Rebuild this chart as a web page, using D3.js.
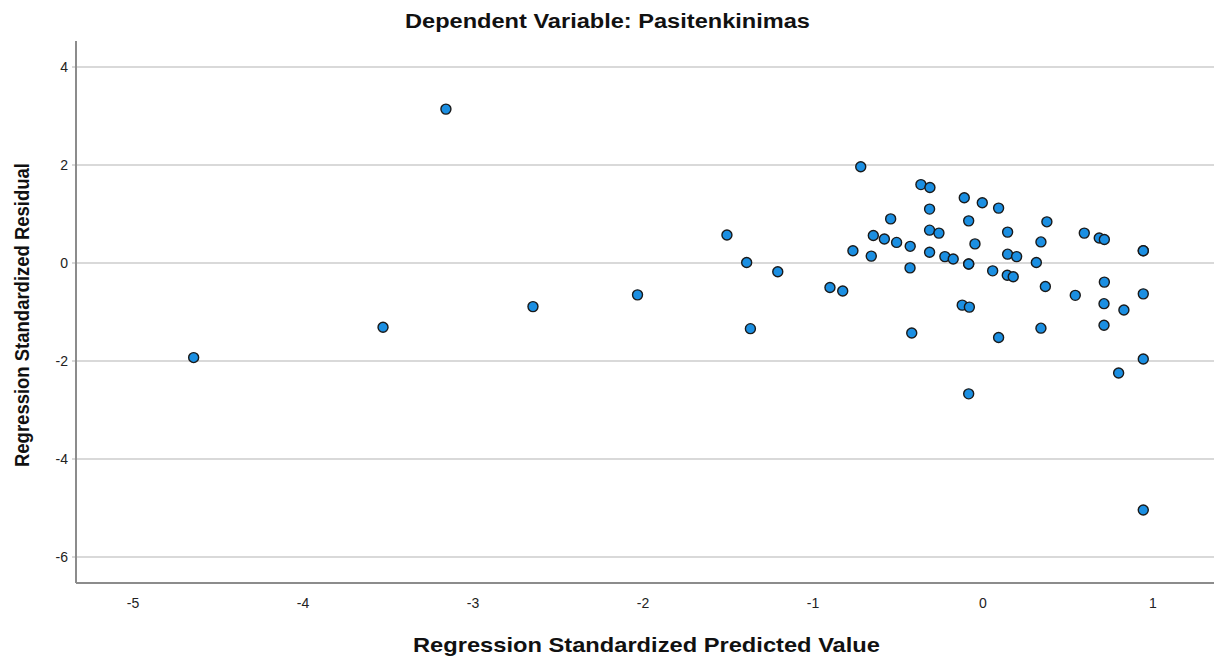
<!DOCTYPE html>
<html>
<head>
<meta charset="utf-8">
<script src="https://cdn.jsdelivr.net/npm/d3@7"></script>
<style>
  body { margin: 0; background: #fff; }
  svg { display: block; font-family: "Liberation Sans", Arial, sans-serif; }
</style>
</head>
<body>
<svg id="chart"></svg>
<script>
// standardized predicted values (x) and standardized residuals (y)
const predicted = [
  -4.643, -3.529, -3.159, -2.647, -2.032, -1.506, -1.390, -1.368, -1.207,
  -0.900, -0.825, -0.765, -0.719, -0.657, -0.645, -0.580, -0.543, -0.508,
  -0.428, -0.429, -0.419, -0.365, -0.312, -0.314, -0.314, -0.314, -0.259,
  -0.224, -0.175, -0.122, -0.110, -0.084, -0.084, -0.084, -0.080, -0.084,
  -0.047, -0.004, 0.057, 0.092, 0.092, 0.145, 0.145, 0.143, 0.178, 0.198,
  0.314, 0.341, 0.341, 0.367, 0.376, 0.543, 0.596, 0.684, 0.714, 0.714,
  0.712, 0.712, 0.798, 0.829, 0.943, 0.943, 0.943, 0.943, 0.943
];
const residual = [
  -1.93, -1.31, 3.14, -0.89, -0.65, 0.57, 0.01, -1.34, -0.18,
  -0.50, -0.57, 0.25, 1.965, 0.14, 0.56, 0.49, 0.90, 0.42,
  0.34, -0.10, -1.43, 1.60, 1.54, 1.10, 0.67, 0.22, 0.61,
  0.13, 0.08, -0.86, 1.33, 0.86, -0.02, -0.02, -0.90, -2.67,
  0.39, 1.23, -0.16, 1.12, -1.52, 0.63, 0.18, -0.25, -0.28, 0.13,
  0.01, 0.43, -1.33, -0.48, 0.84, -0.66, 0.61, 0.51, 0.48, -0.39,
  -0.83, -1.27, -2.245, -0.96, 0.25, 0.25, -0.63, -1.96, -5.04
];
const xTicks = [-5, -4, -3, -2, -1, 0, 1];
const yTicks = [-6, -4, -2, 0, 2, 4];

const titleText = "Dependent Variable: Pasitenkinimas";
const xLabel = "Regression Standardized Predicted Value";
const yLabel = "Regression Standardized Residual";

const width = 1214;
const height = 660;
const plot = { left: 76, right: 1214, top: 41, bottom: 583 };

const svg = d3.select("#chart")
    .attr("width", width)
    .attr("height", height);

const x = d3.scaleLinear()
    .domain([-5.335, 1.359])
    .range([plot.left, plot.right]);

const y = d3.scaleLinear()
    .domain([-6.53, 4.53])
    .range([plot.bottom, plot.top]);

// horizontal gridlines
svg.append("g")
    .selectAll("line")
    .data(yTicks)
    .join("line")
    .attr("x1", plot.left - 4)
    .attr("x2", plot.right)
    .attr("y1", d => y(d))
    .attr("y2", d => y(d))
    .attr("stroke", "#cccccc")
    .attr("stroke-width", 1.6);

// axis lines
svg.append("line")
    .attr("x1", plot.left).attr("x2", plot.left)
    .attr("y1", plot.top).attr("y2", plot.bottom)
    .attr("stroke", "#8c8c8c")
    .attr("stroke-width", 2);

svg.append("line")
    .attr("x1", plot.left).attr("x2", plot.right)
    .attr("y1", plot.bottom).attr("y2", plot.bottom)
    .attr("stroke", "#8c8c8c")
    .attr("stroke-width", 2);

// tick labels
svg.append("g")
    .selectAll("text")
    .data(yTicks)
    .join("text")
    .attr("x", 68)
    .attr("y", d => y(d) + 5)
    .attr("text-anchor", "end")
    .style("font-size", "14px")
    .style("fill", "#222")
    .text(d => d);

svg.append("g")
    .selectAll("text")
    .data(xTicks)
    .join("text")
    .attr("x", d => x(d))
    .attr("y", 608)
    .attr("text-anchor", "middle")
    .style("font-size", "14px")
    .style("fill", "#222")
    .text(d => d);

// points
svg.append("g")
    .selectAll("circle")
    .data(predicted.map((p, i) => ({ p: p, r: residual[i] })))
    .join("circle")
    .attr("cx", d => x(d.p))
    .attr("cy", d => y(d.r))
    .attr("r", 5)
    .attr("fill", "#1b8fe2")
    .attr("stroke", "#1a1a1a")
    .attr("stroke-width", 1.4);

// titles
svg.append("text")
    .attr("x", 607.5)
    .attr("y", 28)
    .attr("text-anchor", "middle")
    .attr("textLength", 405)
    .attr("lengthAdjust", "spacingAndGlyphs")
    .style("font-size", "20px")
    .style("font-weight", "bold")
    .style("fill", "#111")
    .text(titleText);

svg.append("text")
    .attr("x", 646.5)
    .attr("y", 652)
    .attr("text-anchor", "middle")
    .attr("textLength", 467)
    .attr("lengthAdjust", "spacingAndGlyphs")
    .style("font-size", "21px")
    .style("font-weight", "bold")
    .style("fill", "#111")
    .text(xLabel);

svg.append("text")
    .attr("transform", "translate(29,315) rotate(-90)")
    .attr("text-anchor", "middle")
    .attr("textLength", 304)
    .attr("lengthAdjust", "spacingAndGlyphs")
    .style("font-size", "20px")
    .style("font-weight", "bold")
    .style("fill", "#111")
    .text(yLabel);
</script>
</body>
</html>
